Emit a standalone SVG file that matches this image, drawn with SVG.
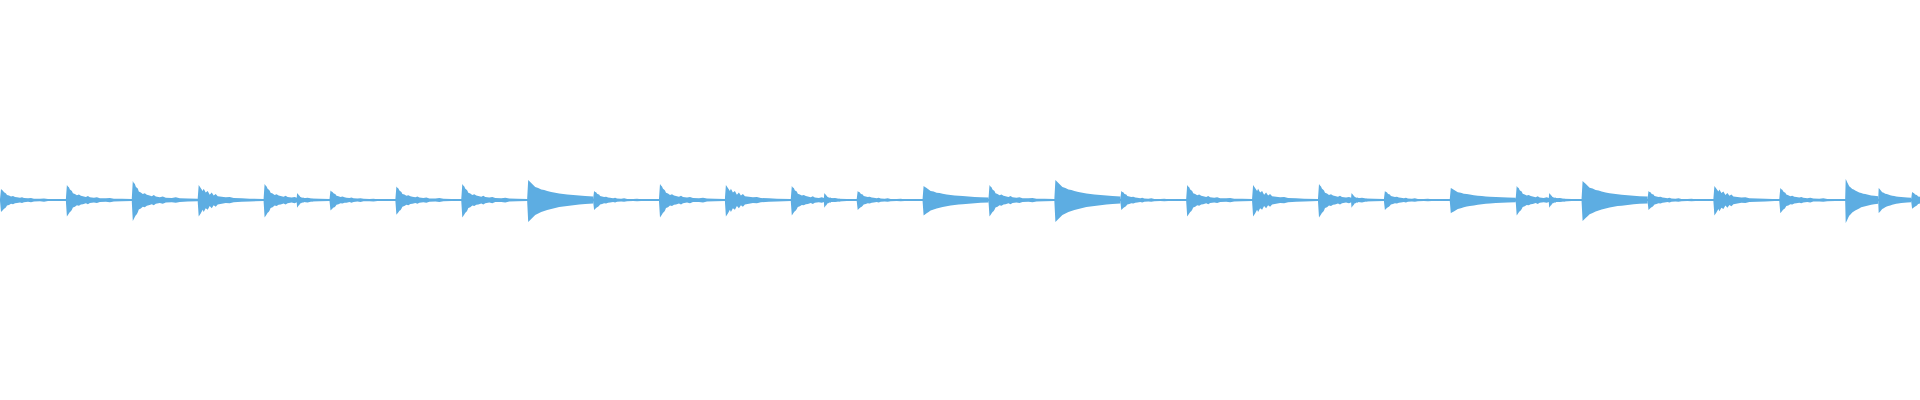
<svg xmlns="http://www.w3.org/2000/svg" xmlns:xlink="http://www.w3.org/1999/xlink" width="1920" height="400" viewBox="0 0 1920 400">
<style>.w{fill:#5dade2}</style>
<defs>
<path id="a" class="w" d="M0,-1 L1,-10 L2,-9 L3,-8.5 L4,-7 L5,-6.5 L6,-6 L7,-4.5 L9,-4 L11,-3.2 L13,-3.6 L15,-2.8 L17,-2.5 L20,-2 L22,-2.6 L24,-1.8 L28,-1.5 L31,-1.9 L34,-1.2 L40,-1.1 L44,-1.4 L48,-0.9 L56,-0.8 L66,-0.6 L66,0.6 L56,0.8 L48,1 L44,1.5 L40,1.2 L34,1.3 L31,2 L28,1.6 L24,2 L22,2.8 L20,2.2 L17,2.8 L15,3 L13,3.8 L11,3.5 L9,4.5 L7,5 L6,6.5 L5,7.5 L4,8 L3,9 L2,10 L1,11 L0,1 Z"/>
<path id="b" class="w" d="M0,-1 L1,-10 L2,-9.5 L4,-8.5 L6,-7.5 L8,-6.5 L11,-6 L14,-5.2 L17,-5 L20,-4.5 L24,-4 L28,-3.6 L32,-3.3 L36,-3 L40,-2.8 L46,-2.5 L52,-2.2 L58,-2 L66,-1.8 L66,1.8 L58,2 L52,2.3 L46,2.6 L40,3 L36,3.2 L32,3.5 L28,4 L24,4.5 L20,5 L17,5.5 L14,6 L11,6.8 L8,7.5 L6,8.5 L4,9.5 L2,10.5 L1,11 L0,1 Z"/>
<path id="c" class="w" d="M0,-1 L1,-10 L3,-8 L5,-6 L6,-7.5 L8,-5 L10,-6 L12,-3.5 L14,-5 L16,-3 L18,-4 L20,-2.5 L24,-2.2 L28,-1.8 L32,-2 L36,-1.3 L44,-1.1 L52,-0.9 L66,-0.6 L66,0.6 L52,1 L44,1.2 L36,1.5 L32,2.2 L28,2 L24,2.5 L20,3 L18,4.5 L16,3.5 L14,5.5 L12,4 L10,6.5 L8,5.5 L6,8 L5,6.5 L3,9 L1,11 L0,1 Z"/>
</defs>
<rect class="w" x="0" y="199" width="1920" height="2"/>
<g id="waveform">
<use xlink:href="#a" transform="translate(0,200) scale(1,1.1)"/>
<use xlink:href="#a" transform="translate(65.9,200) scale(1,1.5)"/>
<use xlink:href="#a" transform="translate(131.8,200) scale(1,1.9)"/>
<use xlink:href="#c" transform="translate(197.7,200) scale(1,1.5)"/>
<use xlink:href="#a" transform="translate(263.6,200) scale(1,1.6)"/>
<use xlink:href="#a" transform="translate(296.6,200) scale(0.5,0.7)"/>
<use xlink:href="#a" transform="translate(329.5,200) scale(1,0.95)"/>
<use xlink:href="#a" transform="translate(395.4,200) scale(1,1.35)"/>
<use xlink:href="#a" transform="translate(461.3,200) scale(1,1.6)"/>
<use xlink:href="#b" transform="translate(527.2,200) scale(1,2.0)"/>
<use xlink:href="#a" transform="translate(593.1,200) scale(1,0.9)"/>
<use xlink:href="#a" transform="translate(659,200) scale(1,1.6)"/>
<use xlink:href="#c" transform="translate(724.9,200) scale(1,1.5)"/>
<use xlink:href="#a" transform="translate(790.8,200) scale(1,1.4)"/>
<use xlink:href="#a" transform="translate(823.8,200) scale(0.5,0.7)"/>
<use xlink:href="#a" transform="translate(856.7,200) scale(1,0.9)"/>
<use xlink:href="#b" transform="translate(922.6,200) scale(1,1.4)"/>
<use xlink:href="#a" transform="translate(988.5,200) scale(1,1.5)"/>
<use xlink:href="#b" transform="translate(1054.4,200) scale(1,2.0)"/>
<use xlink:href="#a" transform="translate(1120.3,200) scale(1,0.9)"/>
<use xlink:href="#a" transform="translate(1186.2,200) scale(1,1.5)"/>
<use xlink:href="#c" transform="translate(1252.1,200) scale(1,1.5)"/>
<use xlink:href="#a" transform="translate(1318,200) scale(1,1.6)"/>
<use xlink:href="#a" transform="translate(1351,200) scale(0.5,0.7)"/>
<use xlink:href="#a" transform="translate(1383.9,200) scale(1,0.9)"/>
<use xlink:href="#b" transform="translate(1449.8,200) scale(1,1.2)"/>
<use xlink:href="#a" transform="translate(1515.7,200) scale(1,1.4)"/>
<use xlink:href="#a" transform="translate(1548.7,200) scale(0.5,0.7)"/>
<use xlink:href="#b" transform="translate(1581.6,200) scale(1,1.9)"/>
<use xlink:href="#a" transform="translate(1647.5,200) scale(1,0.9)"/>
<use xlink:href="#c" transform="translate(1713.4,200) scale(1,1.4)"/>
<use xlink:href="#a" transform="translate(1779.3,200) scale(1,1.2)"/>
<use xlink:href="#b" transform="translate(1845.2,200) scale(0.5,2.1)"/>
<use xlink:href="#b" transform="translate(1878.2,200) scale(0.5,1.2)"/>
<use xlink:href="#a" transform="translate(1911.1,200) scale(1,0.8)"/>
</g>
</svg>
